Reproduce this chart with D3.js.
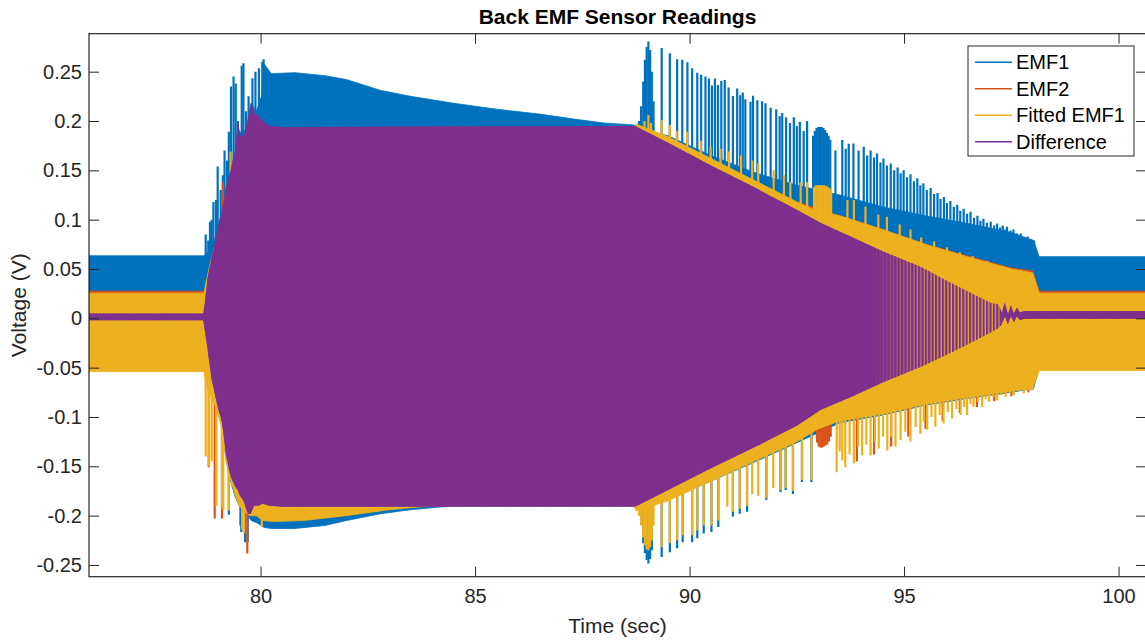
<!DOCTYPE html>
<html>
<head>
<meta charset="utf-8">
<script src="https://cdn.jsdelivr.net/npm/d3@7"></script>
<style>
  body { margin: 0; background: #fff; }
  text { font-family: "Liberation Sans", Arial, Helvetica, sans-serif; }
</style>
</head>
<body>
<svg id="chart" width="1145" height="641"></svg>
<script>
// ---- Data: envelopes [time, upper, lower] and oscillation peaks [time, value] ----
const seriesNames = ["EMF1", "EMF2", "Fitted EMF1", "Difference"];
const xTickValues = [80, 85, 90, 95, 100];
const yTickValues = [-0.25, -0.2, -0.15, -0.1, -0.05, 0, 0.05, 0.1, 0.15, 0.2, 0.25];
const yTickLabels = ["-0.25", "-0.2", "-0.15", "-0.1", "-0.05", "0", "0.05", "0.1", "0.15", "0.2", "0.25"];

const emf1Band = [
  [76.00, 0.0634, -0.048], [78.68, 0.0634, -0.048], [78.72, 0.065, -0.06], [78.85, 0.07, -0.07],
  [79.00, 0.09, -0.095], [79.10, 0.11, -0.11], [79.20, 0.133, -0.145], [79.30, 0.15, -0.165],
  [79.40, 0.168, -0.18], [79.50, 0.19, -0.19], [79.60, 0.186, -0.196], [79.70, 0.2, -0.2],
  [79.78, 0.218, -0.205], [79.90, 0.21, -0.207], [80.02, 0.225, -0.21], [80.08, 0.258, -0.212],
  [80.25, 0.248, -0.213], [80.80, 0.249, -0.213], [81.50, 0.246, -0.21], [82.00, 0.242, -0.205],
  [82.80, 0.231, -0.198], [83.50, 0.225, -0.194], [84.50, 0.218, -0.19], [85.50, 0.212, -0.19],
  [86.50, 0.207, -0.19], [87.30, 0.202, -0.19], [88.00, 0.198, -0.19], [88.70, 0.196, -0.19],
  [89.00, 0.19, -0.19], [89.50, 0.185, -0.182], [90.50, 0.165, -0.165], [91.50, 0.148, -0.146],
  [92.50, 0.135, -0.126], [93.50, 0.125, -0.106], [94.50, 0.113, -0.098], [95.50, 0.104, -0.088],
  [96.50, 0.096, -0.081], [97.50, 0.087, -0.075], [98.02, 0.079, -0.071], [98.15, 0.0625, -0.05],
  [100.70, 0.0625, -0.048]
];
const emf1Peaks = [
  [78.72, 0.085], [78.78, 0.079], [78.82, 0.098], [78.86, 0.1], [78.90, 0.118], [78.96, 0.12],
  [79.00, 0.154], [79.07, 0.13], [79.12, 0.145], [79.16, 0.17], [79.22, 0.16], [79.26, 0.189],
  [79.31, 0.235], [79.37, 0.245], [79.42, 0.238], [79.47, 0.2], [79.56, 0.256], [79.60, 0.2585],
  [79.66, 0.21], [79.72, 0.225], [79.81, 0.2433], [79.88, 0.25], [79.96, 0.2534], [80.04, 0.26],
  [80.07, 0.2626],
  [79.26, -0.199], [79.53, -0.21], [79.55, -0.2165], [79.64, -0.227], [79.70, -0.2267], [80.05, -0.211],
  [88.82, 0.2], [88.87, 0.215], [88.92, 0.24], [88.96, 0.262], [89.00, 0.275], [89.04, 0.2805],
  [89.08, 0.272], [89.12, 0.25], [89.16, 0.22],
  [89.35, 0.274], [89.54, 0.2687], [89.71, 0.2626], [89.83, 0.262], [89.95, 0.2595], [90.06, 0.2535],
  [90.18, 0.249], [90.27, 0.247], [90.37, 0.245], [90.45, 0.243], [90.52, 0.236], [90.59, 0.243],
  [90.66, 0.2365], [90.74, 0.2406], [90.82, 0.2416], [90.91, 0.234], [91.01, 0.2253], [91.11, 0.233],
  [91.18, 0.226], [91.24, 0.229], [91.30, 0.222], [91.42, 0.2196], [91.48, 0.2257], [91.58, 0.221],
  [91.69, 0.22], [91.77, 0.218], [91.89, 0.2135], [92.02, 0.212], [92.10, 0.205], [92.16, 0.208],
  [92.25, 0.2037], [92.34, 0.198], [92.43, 0.2037], [92.50, 0.195], [92.57, 0.1993], [92.66, 0.19],
  [92.74, 0.2],
  [92.88, 0.185], [92.92, 0.19], [92.96, 0.193], [93.00, 0.194], [93.04, 0.194], [93.08, 0.194],
  [93.12, 0.193], [93.16, 0.191], [93.20, 0.188], [93.24, 0.185], [93.28, 0.181],
  [93.40, 0.17], [93.56, 0.1807], [93.64, 0.172], [93.71, 0.177], [93.82, 0.1773], [93.94, 0.17],
  [94.06, 0.174], [94.14, 0.165], [94.22, 0.17], [94.30, 0.163], [94.37, 0.167], [94.45, 0.158],
  [94.52, 0.162], [94.60, 0.155], [94.69, 0.157], [94.77, 0.15], [94.85, 0.153], [94.92, 0.147],
  [94.99, 0.15], [95.07, 0.143], [95.15, 0.146], [95.23, 0.139], [95.31, 0.142], [95.38, 0.135],
  [95.45, 0.137], [95.53, 0.13], [95.62, 0.132], [95.70, 0.126], [95.78, 0.127], [95.85, 0.121],
  [95.93, 0.123], [96.00, 0.117], [96.08, 0.119], [96.16, 0.113], [96.24, 0.115], [96.31, 0.109],
  [96.39, 0.111], [96.47, 0.106], [96.55, 0.108], [96.63, 0.102], [96.71, 0.104], [96.78, 0.099],
  [96.85, 0.101], [96.93, 0.097], [97.02, 0.098], [97.10, 0.094], [97.17, 0.096], [97.24, 0.092],
  [97.30, 0.094], [97.36, 0.09], [97.40, 0.0928], [97.48, 0.089], [97.55, 0.09], [97.63, 0.086],
  [97.72, 0.086], [97.80, 0.082], [97.88, 0.083], [97.95, 0.08], [98.03, 0.079],
  [88.92, -0.228], [88.96, -0.238], [89.00, -0.245], [89.04, -0.2486], [89.08, -0.244], [89.12, -0.235],
  [89.35, -0.242], [89.54, -0.237], [89.71, -0.233], [89.84, -0.227], [90.06, -0.227], [90.18, -0.223],
  [90.33, -0.218], [90.51, -0.2165], [90.67, -0.2115], [91.01, -0.201], [91.17, -0.198], [91.34, -0.196],
  [91.79, -0.184], [92.12, -0.176], [92.24, -0.174], [92.41, -0.178], [92.62, -0.166], [92.84, -0.166]
];

const emf2Band = [
  [76.00, 0.0275, -0.053], [78.68, 0.0275, -0.053], [78.72, 0.03, -0.06], [79.00, 0.08, -0.09],
  [79.50, 0.18, -0.185], [80.05, 0.185, -0.2], [80.30, 0.185, -0.203], [81.00, 0.185, -0.2],
  [82.00, 0.185, -0.196], [83.00, 0.185, -0.19], [88.70, 0.185, -0.188], [89.50, 0.18, -0.182],
  [90.50, 0.16, -0.163], [91.50, 0.14, -0.143], [92.50, 0.118, -0.123], [93.50, 0.104, -0.102],
  [94.50, 0.09, -0.095], [95.50, 0.075, -0.085], [96.50, 0.063, -0.078], [97.50, 0.051, -0.072],
  [98.00, 0.048, -0.07], [98.15, 0.0275, -0.052], [100.70, 0.0275, -0.052]
];
const emf2Peaks = [
  [78.79, -0.151], [78.93, -0.203], [79.10, -0.203], [79.69, -0.2385], [79.12, 0.138],
  [92.97, -0.126], [93.01, -0.13], [93.05, -0.131], [93.09, -0.131], [93.13, -0.13], [93.17, -0.129],
  [93.21, -0.128], [93.25, -0.125], [93.29, -0.12],
  [93.90, -0.145], [94.30, -0.138], [94.70, -0.13], [95.10, -0.12], [95.50, -0.112], [95.90, -0.104],
  [96.30, -0.096], [96.70, -0.09], [97.10, -0.084], [97.50, -0.079], [97.90, -0.075]
];

const fittedBand = [
  [76.00, 0.0255, -0.054], [78.68, 0.0255, -0.054], [78.72, 0.035, -0.065], [78.85, 0.06, -0.08],
  [79.00, 0.085, -0.095], [79.10, 0.105, -0.112], [79.20, 0.128, -0.145], [79.30, 0.145, -0.163],
  [79.40, 0.163, -0.178], [79.50, 0.185, -0.19], [79.60, 0.18, -0.195], [79.75, 0.195, -0.2],
  [79.90, 0.195, -0.2], [80.05, 0.19, -0.205], [80.30, 0.19, -0.206], [81.00, 0.19, -0.205],
  [82.00, 0.19, -0.2], [83.00, 0.19, -0.194], [84.00, 0.19, -0.19], [88.70, 0.19, -0.19],
  [88.75, 0.197, -0.195], [89.50, 0.184, -0.185], [90.50, 0.162, -0.165], [91.50, 0.14, -0.145],
  [92.50, 0.118, -0.125], [93.00, 0.108, -0.112], [93.50, 0.104, -0.104], [94.50, 0.09, -0.097],
  [95.50, 0.075, -0.087], [96.50, 0.062, -0.08], [97.50, 0.05, -0.074], [98.00, 0.046, -0.071],
  [98.15, 0.0255, -0.053], [100.70, 0.0255, -0.053]
];
const fittedPeaks = [
  [78.72, -0.14], [78.80, -0.15], [78.86, -0.145], [78.97, -0.19], [79.10, -0.192], [79.13, -0.1945],
  [79.26, -0.195], [79.33, -0.17], [79.57, -0.214], [79.62, -0.218], [80.03, -0.211],
  [79.30, 0.169], [79.44, 0.17],
  [88.82, -0.2], [88.87, -0.21], [88.92, -0.222], [88.96, -0.23], [89.00, -0.234], [89.04, -0.235],
  [89.08, -0.232], [89.12, -0.225], [89.16, -0.21],
  [89.35, -0.232], [89.54, -0.228], [89.71, -0.225], [89.84, -0.22], [90.06, -0.22], [90.18, -0.215],
  [90.33, -0.21], [90.51, -0.21], [90.67, -0.205], [90.88, -0.191], [91.01, -0.196], [91.17, -0.193],
  [91.34, -0.19], [91.46, -0.178], [91.60, -0.18], [91.79, -0.182], [91.95, -0.172], [92.12, -0.174],
  [92.24, -0.172], [92.41, -0.175], [92.62, -0.164], [92.84, -0.164], [93.43, -0.156], [93.56, -0.144],
  [93.50, -0.135], [93.63, -0.151], [93.73, -0.138], [93.83, -0.147], [93.93, -0.13], [94.02, -0.139],
  [94.12, -0.128], [94.22, -0.139], [94.32, -0.125], [94.41, -0.132], [94.51, -0.12], [94.61, -0.134],
  [94.70, -0.12], [94.80, -0.13], [94.92, -0.1235], [95.03, -0.115], [95.15, -0.125], [95.27, -0.11],
  [95.38, -0.117], [95.46, -0.105], [95.54, -0.113], [95.64, -0.1], [95.73, -0.11], [95.83, -0.098],
  [95.92, -0.1066], [96.02, -0.095], [96.12, -0.1015], [96.22, -0.092], [96.32, -0.098], [96.40, -0.09],
  [96.47, -0.098], [96.55, -0.087], [96.62, -0.0898], [96.72, -0.085], [96.82, -0.0898], [96.90, -0.082],
  [96.98, -0.0847], [97.08, -0.08], [97.17, -0.083], [97.27, -0.078], [97.37, -0.0796], [97.47, -0.076],
  [97.56, -0.078], [97.68, -0.074], [97.79, -0.076], [97.88, -0.073], [97.98, -0.073],
  [88.95, 0.2], [89.04, 0.206], [89.10, 0.198], [89.35, 0.201], [89.54, 0.196], [89.70, 0.19],
  [89.94, 0.189], [90.26, 0.18], [90.49, 0.174], [90.72, 0.172], [90.92, 0.169], [91.20, 0.165],
  [91.46, 0.16], [91.60, 0.157], [91.96, 0.15], [92.20, 0.145], [92.35, 0.138], [92.59, 0.138],
  [92.74, 0.138], [92.90, 0.133], [92.94, 0.135], [92.98, 0.135], [93.02, 0.135], [93.06, 0.135],
  [93.10, 0.135], [93.14, 0.135], [93.18, 0.134], [93.22, 0.133], [93.26, 0.132], [93.30, 0.13],
  [93.68, 0.12], [93.83, 0.12], [94.10, 0.113], [94.40, 0.105], [94.60, 0.103], [94.90, 0.095],
  [95.15, 0.09], [95.40, 0.082], [95.70, 0.078], [96.00, 0.072], [96.30, 0.067], [96.60, 0.063],
  [96.94, 0.058], [97.30, 0.053], [97.72, 0.049]
];

const differenceBand = [
  [76.00, 0.005, -0.002], [78.66, 0.005, -0.002], [78.70, 0.015, -0.012], [78.76, 0.04, -0.03],
  [78.85, 0.06, -0.06], [79.00, 0.09, -0.09], [79.10, 0.11, -0.105], [79.20, 0.133, -0.14],
  [79.30, 0.15, -0.16], [79.40, 0.168, -0.17], [79.48, 0.2, -0.175], [79.52, 0.185, -0.18],
  [79.60, 0.185, -0.185], [79.70, 0.2, -0.198], [79.77, 0.218, -0.198], [79.85, 0.208, -0.19],
  [79.95, 0.205, -0.19], [80.05, 0.2, -0.188], [80.20, 0.195, -0.19], [80.50, 0.194, -0.191],
  [88.73, 0.195, -0.191], [89.50, 0.178, -0.174], [90.50, 0.155, -0.152], [91.50, 0.133, -0.131],
  [92.50, 0.11, -0.109], [93.05, 0.097, -0.093], [93.75, 0.083, -0.08], [94.50, 0.068, -0.065],
  [95.40, 0.052, -0.049], [96.00, 0.038, -0.037], [96.55, 0.026, -0.025], [97.00, 0.016, -0.015],
  [97.20, 0.014, -0.01], [97.28, 0.006, -0.006], [97.35, 0.016, 0.002], [97.42, 0.004, -0.006],
  [97.49, 0.013, 0.002], [97.56, 0.005, -0.004], [97.63, 0.011, 0.002], [97.70, 0.006, -0.002],
  [97.80, 0.0075, -0.0005], [100.70, 0.0075, -0.0005]
];

// ---- Layout ----
const W = 1145, H = 641;
const plot = { left: 89, top: 33.7, right: 1146, bottom: 576.7 };
const colors = ["#0072BD", "#D95319", "#EDB120", "#7E2F8E"];
const axisColor = "#262626";

const x = d3.scaleLinear().domain([76, 100.64]).range([plot.left, plot.right]);
const y = d3.scaleLinear().domain([-0.2619, 0.2885]).range([plot.bottom, plot.top]);

const svg = d3.select("#chart");
svg.append("rect").attr("width", W).attr("height", H).attr("fill", "#fff");

const defs = svg.append("defs");
defs.append("clipPath").attr("id", "plotClip")
  .append("rect")
  .attr("x", plot.left).attr("y", plot.top)
  .attr("width", plot.right - plot.left).attr("height", plot.bottom - plot.top);

// Individual cycles of the difference trace show up as vertical strokes while the rotor coasts down
const stripes = defs.append("pattern").attr("id", "diffStripes")
  .attr("patternUnits", "userSpaceOnUse").attr("width", 3.4).attr("height", 10);
stripes.append("rect").attr("x", 0).attr("y", 0).attr("width", 2.2).attr("height", 10)
  .attr("fill", colors[3]);

const grad = defs.append("linearGradient").attr("id", "diffFade")
  .attr("gradientUnits", "userSpaceOnUse")
  .attr("x1", plot.left).attr("x2", plot.right).attr("y1", 0).attr("y2", 0);
const span = plot.right - plot.left;
[[94.2, 1], [96.0, 0], [97.2, 0], [97.3, 1]].forEach(([t, o]) => {
  grad.append("stop").attr("offset", (x(t) - plot.left) / span)
    .attr("stop-color", colors[3]).attr("stop-opacity", o);
});

const g = svg.append("g").attr("clip-path", "url(#plotClip)");

const area = d3.area()
  .x(d => x(d[0]))
  .y0(d => y(d[2]))
  .y1(d => y(d[1]))
  .curve(d3.curveLinear);

function drawSeries(band, peaks, color) {
  const s = g.append("g");
  s.append("path").datum(band)
    .attr("d", area)
    .attr("fill", color)
    .attr("stroke", color)
    .attr("stroke-width", 0.8);
  if (peaks) {
    s.selectAll("line").data(peaks).join("line")
      .attr("x1", d => x(d[0])).attr("x2", d => x(d[0]))
      .attr("y1", y(0)).attr("y2", d => y(d[1]))
      .attr("stroke", color).attr("stroke-width", 2.2);
  }
}

drawSeries(emf1Band, emf1Peaks, colors[0]);
drawSeries(emf2Band, emf2Peaks, colors[1]);
drawSeries(fittedBand, fittedPeaks, colors[2]);

// Difference: striped cycles underneath, solid fill faded out where the cycles separate
g.append("path").datum(differenceBand).attr("d", area).attr("fill", "url(#diffStripes)");
g.append("path").datum(differenceBand).attr("d", area).attr("fill", "url(#diffFade)");

// ---- Axes ----
function styleAxis(sel) {
  sel.select(".domain").remove();
  sel.selectAll(".tick line").attr("stroke", axisColor).attr("stroke-width", 1);
  sel.selectAll(".tick text").attr("fill", axisColor).style("font-size", "20px")
    .style("font-family", "'Liberation Sans', Arial, sans-serif");
}

svg.append("g").attr("transform", `translate(0,${plot.bottom})`)
  .call(d3.axisBottom(x).tickValues(xTickValues).tickFormat(d3.format("d"))
    .tickSizeInner(-10).tickSizeOuter(0).tickPadding(12))
  .call(styleAxis);
svg.append("g").attr("transform", `translate(0,${plot.top})`)
  .call(d3.axisTop(x).tickValues(xTickValues).tickFormat(() => "")
    .tickSizeInner(-10).tickSizeOuter(0))
  .call(styleAxis);
svg.append("g").attr("transform", `translate(${plot.left},0)`)
  .call(d3.axisLeft(y).tickValues(yTickValues).tickFormat((d, i) => yTickLabels[i])
    .tickSizeInner(-10).tickSizeOuter(0).tickPadding(7))
  .call(styleAxis);
svg.append("g").attr("transform", `translate(${plot.right},0)`)
  .call(d3.axisRight(y).tickValues(yTickValues).tickFormat(() => "")
    .tickSizeInner(-10).tickSizeOuter(0))
  .call(styleAxis);

svg.append("rect")
  .attr("x", plot.left).attr("y", plot.top)
  .attr("width", plot.right - plot.left).attr("height", plot.bottom - plot.top)
  .attr("fill", "none").attr("stroke", axisColor).attr("stroke-width", 1.2);

// ---- Labels ----
svg.append("text").attr("x", (plot.left + plot.right) / 2).attr("y", 24)
  .attr("text-anchor", "middle").attr("fill", "#000")
  .style("font-size", "21px").style("font-weight", "bold")
  .text("Back EMF Sensor Readings");
svg.append("text").attr("x", (plot.left + plot.right) / 2).attr("y", 633)
  .attr("text-anchor", "middle").attr("fill", axisColor)
  .style("font-size", "21px").text("Time (sec)");
svg.append("text")
  .attr("transform", `translate(26,${(plot.top + plot.bottom) / 2}) rotate(-90)`)
  .attr("text-anchor", "middle").attr("fill", axisColor)
  .style("font-size", "21px").text("Voltage (V)");

// ---- Legend ----
const legend = svg.append("g");
legend.append("rect").attr("x", 968).attr("y", 46).attr("width", 166).attr("height", 110)
  .attr("fill", "#fff").attr("stroke", axisColor).attr("stroke-width", 1);
const rowY = d3.scalePoint().domain(seriesNames).range([62.3, 141.7]);
seriesNames.forEach((name, i) => {
  const yy = rowY(name);
  legend.append("line").attr("x1", 975).attr("x2", 1012).attr("y1", yy).attr("y2", yy)
    .attr("stroke", colors[i]).attr("stroke-width", 1.5);
  legend.append("text").attr("x", 1016).attr("y", yy).attr("dy", "0.35em")
    .attr("fill", "#000").style("font-size", "20px").text(name);
});
</script>
</body>
</html>
